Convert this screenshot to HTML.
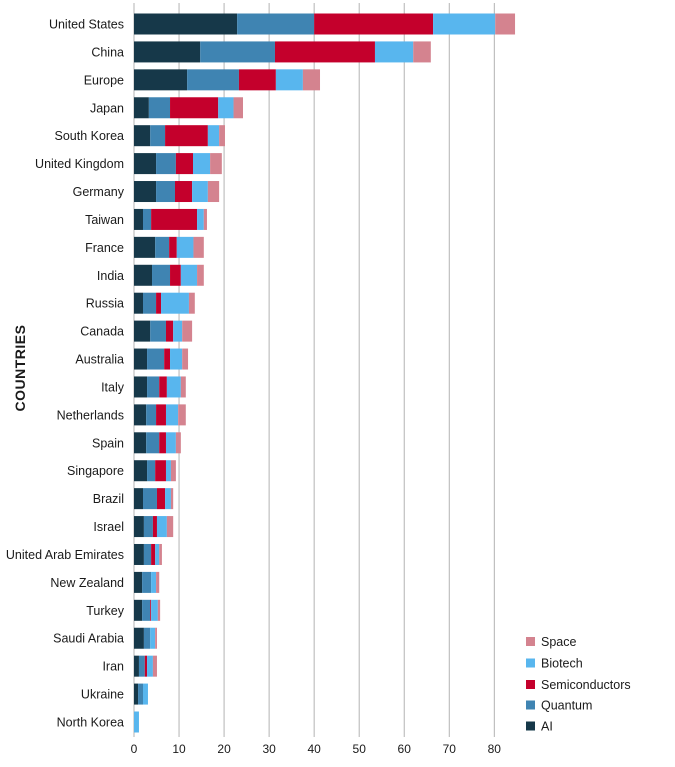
<!DOCTYPE html>
<html><head><meta charset="utf-8"><style>
body{margin:0;background:#fff;}
svg text{font-family:"Liberation Sans",sans-serif;fill:#1a1a1a;}
</style></head><body>
<svg id="chart" width="675" height="762" xmlns="http://www.w3.org/2000/svg">
<g id="grid"></g>
<g id="bars"></g>
<g id="ylabels"></g>
<g id="xticks"></g>
<text transform="translate(25,368) rotate(-90)" text-anchor="middle" font-size="14" font-weight="bold" letter-spacing="0.5">COUNTRIES</text>
<g id="legend"></g>
</svg>
<script>
const countries=["United States","China","Europe","Japan","South Korea","United Kingdom","Germany","Taiwan","France","India","Russia","Canada","Australia","Italy","Netherlands","Spain","Singapore","Brazil","Israel","United Arab Emirates","New Zealand","Turkey","Saudi Arabia","Iran","Ukraine","North Korea"];
const ai=[22.9,14.7,11.8,3.3,3.6,4.9,4.9,2.0,4.7,4.0,2.0,3.6,2.9,2.9,2.7,2.7,2.9,2.0,2.2,2.2,1.8,1.8,2.2,1.1,0.9,0];
const quantum=[17.1,16.6,11.5,4.7,3.3,4.4,4.2,1.8,3.1,4.0,2.9,3.5,3.8,2.7,2.2,2.9,1.8,3.1,2.0,1.6,2.0,1.8,1.4,1.3,1.1,0];
const semis=[26.4,22.2,8.2,10.7,9.5,3.8,3.8,10.2,1.7,2.4,1.1,1.6,1.3,1.7,2.2,1.5,2.4,1.8,0.9,0.9,0,0.2,0,0.5,0,0];
const biotech=[13.8,8.5,6.0,3.4,2.5,3.8,3.5,1.5,3.7,3.6,6.2,2.0,2.7,3.1,2.7,2.2,1.1,1.3,2.2,0.9,1.1,1.5,1.1,1.3,1.1,1.1];
const space=[4.4,3.9,3.8,2.1,1.3,2.6,2.5,0.7,2.3,1.5,1.3,2.2,1.3,1.1,1.7,1.1,1.1,0.5,1.4,0.6,0.7,0.5,0.4,0.9,0,0];
const xTicks=[0,10,20,30,40,50,60,70,80];
const seriesNames=["AI","Quantum","Semiconductors","Biotech","Space"];
const seriesColors=["#163849","#3f84b2","#c4002c","#58b6ee","#d4838f"];
const series=[ai,quantum,semis,biotech,space];
const NS="http://www.w3.org/2000/svg";
const x=v=>134+v*4.504;
const y=i=>24+i*27.92;
const bh=21;
function mk(tag,attrs,parent){const e=document.createElementNS(NS,tag);for(const k in attrs)e.setAttribute(k,attrs[k]);parent.appendChild(e);return e;}
const grid=document.getElementById('grid'),bars=document.getElementById('bars'),yl=document.getElementById('ylabels'),xt=document.getElementById('xticks'),lg=document.getElementById('legend');
xTicks.forEach(t=>{
  const l=mk('line',{x1:x(t),x2:x(t),y1:3,y2:737,stroke:'#b3b3b3','stroke-width':1},grid);
  
  
  const tx=mk('text',{x:x(t),y:753,'text-anchor':'middle','font-size':12},xt);
  tx.textContent=t;
  
  
});
countries.forEach((c,i)=>{
  const t=mk('text',{x:124,y:y(i)+4.5,'text-anchor':'end','font-size':12.5},yl);
  t.textContent=c;
  
  
  let acc=0;
  series.forEach((s,k)=>{
    const v=s[i];
    if(v>0){
      const r=mk('rect',{x:x(acc),y:y(i)-bh/2,width:x(acc+v)-x(acc),height:bh,fill:seriesColors[k]},bars);
      
      
    }
    acc+=v;
  });
});
const ly=[726,705,684.5,663,641.5];
seriesNames.forEach((n,k)=>{
  const r=mk('rect',{x:526,y:ly[k]-4.5,width:9,height:9,fill:seriesColors[k]},lg);
  
  
  const t=mk('text',{x:541,y:ly[k]+4.5,'font-size':12.5},lg);
  t.textContent=n;
  
  
});
</script>
</body></html>
